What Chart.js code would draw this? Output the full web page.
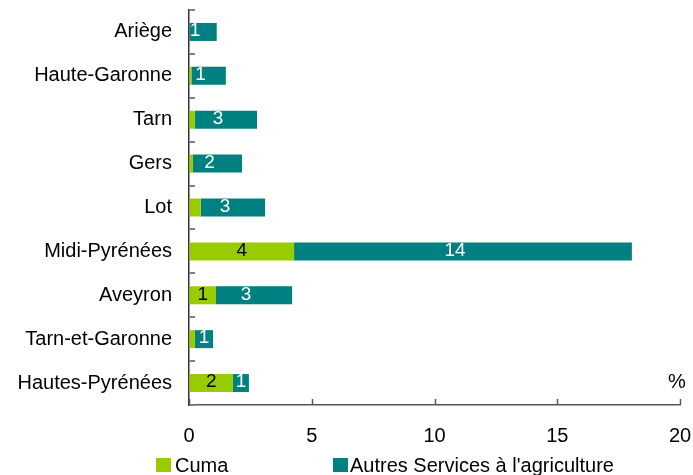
<!DOCTYPE html>
<html lang="fr">
<head>
<meta charset="utf-8">
<title>Cuma et autres services à l'agriculture</title>
<script src="https://cdn.jsdelivr.net/npm/chart.js@4.4.1/dist/chart.umd.min.js"></script>
<style>
  body { margin: 0; background: #fff; }
  #wrap { position: relative; width: 693px; height: 475px; font-family: "Liberation Sans", Arial, sans-serif; }
  #chart { position: absolute; left: 0; top: 0; }
  .lg-box { position: absolute; width: 15px; height: 14px; }
  .lg-txt { position: absolute; font-size: 20px; line-height: 23px; color: #000; white-space: nowrap; }
</style>
</head>
<body>
<div id="wrap">
  <canvas id="chart" width="693" height="475"></canvas>
  <span class="lg-box" style="left:156px; top:458px; background:#99cc00"></span>
  <span class="lg-txt" style="left:175px; top:454px">Cuma</span>
  <span class="lg-box" style="left:333px; top:458px; background:#008080"></span>
  <span class="lg-txt" style="left:350px; top:454px">Autres Services à l'agriculture</span>
</div>
<script>
// ---- données (en %) ----
const departements = [
  'Ariège', 'Haute-Garonne', 'Tarn', 'Gers', 'Lot',
  'Midi-Pyrénées', 'Aveyron', 'Tarn-et-Garonne', 'Hautes-Pyrénées',
];
const cuma = [0, 0.1, 0.24, 0.16, 0.48, 4.28, 1.1, 0.24, 1.79];
const autresServices = [1.13, 1.4, 2.53, 2.0, 2.62, 13.76, 3.1, 0.74, 0.65];
const xTicks = [0, 5, 10, 15, 20];

const GREEN = '#99cc00';
const TEAL = '#008080';
const FONT = '"Liberation Sans", Arial, sans-serif';
const labelColors = ['#000000', '#ffffff'];

// ---- étiquettes de valeurs, petites graduations, unité ----
const overlay = {
  id: 'overlay',
  afterDatasetsDraw(chart) {
    const ctx = chart.ctx;
    ctx.save();
    ctx.font = '19px ' + FONT;
    ctx.textAlign = 'center';
    ctx.textBaseline = 'middle';
    chart.data.datasets.forEach((ds, di) => {
      chart.getDatasetMeta(di).data.forEach((bar, i) => {
        const n = Math.round(ds.data[i]);
        if (n < 1) return;
        const w = bar.x - bar.base;
        const shift = di === 1 && w > 25 ? -8 : 0;
        ctx.fillStyle = labelColors[di];
        ctx.fillText(String(n), (bar.base + bar.x) / 2 + shift, bar.y - 1);
      });
    });
    ctx.restore();
  },
  afterDraw(chart) {
    const ctx = chart.ctx;
    const area = chart.chartArea;
    const xs = chart.scales.x;
    ctx.save();
    // graduations de l'axe vertical (limites de catégories)
    ctx.strokeStyle = '#808080';
    ctx.lineWidth = 2;
    const n = departements.length;
    for (let k = 0; k <= n; k++) {
      const y = Math.round(area.top + k * (area.bottom - area.top) / n);
      ctx.beginPath();
      ctx.moveTo(area.left, y);
      ctx.lineTo(area.left + 6, y);
      ctx.stroke();
    }
    // graduations de l'axe horizontal
    ctx.strokeStyle = '#555';
    ctx.lineWidth = 1.5;
    xTicks.forEach((v) => {
      const x = Math.round(xs.getPixelForValue(v)) + 0.5;
      ctx.beginPath();
      ctx.moveTo(x, area.bottom);
      ctx.lineTo(x, area.bottom - 6);
      ctx.stroke();
    });
    // unité
    ctx.fillStyle = '#000';
    ctx.font = '20px ' + FONT;
    ctx.textAlign = 'center';
    ctx.textBaseline = 'alphabetic';
    ctx.fillText('%', 677, 388);
    ctx.restore();
  },
};

new Chart(document.getElementById('chart'), {
  type: 'bar',
  data: {
    labels: departements,
    datasets: [
      { label: 'Cuma', data: cuma, backgroundColor: GREEN },
      { label: "Autres Services à l'agriculture", data: autresServices, backgroundColor: TEAL },
    ],
  },
  options: {
    indexAxis: 'y',
    responsive: false,
    animation: false,
    devicePixelRatio: 1,
    layout: { padding: { top: 10, right: 13, bottom: 0, left: 0 } },
    datasets: { bar: { barPercentage: 0.41, categoryPercentage: 1 } },
    plugins: {
      legend: { display: false },
      tooltip: { enabled: false },
    },
    scales: {
      x: {
        stacked: true,
        min: 0,
        max: 20,
        afterBuildTicks: (s) => { s.ticks = xTicks.map((v) => ({ value: v })); },
        afterFit: (s) => {
          s.height = 70;
          s.paddingLeft = 0;
          s.paddingRight = 0;
        },
        ticks: { color: '#000', font: { family: FONT, size: 20 }, padding: 19 },
        grid: { drawOnChartArea: false, drawTicks: false },
        border: { color: '#555', width: 1.5 },
      },
      y: {
        stacked: true,
        afterFit: (s) => {
          s.width = 189;
          s.paddingTop = 0;
          s.paddingBottom = 0;
        },
        ticks: { color: '#000', font: { family: FONT, size: 20 }, padding: 17 },
        grid: { drawOnChartArea: false, drawTicks: false },
        border: { color: '#333', width: 1.5 },
      },
    },
  },
  plugins: [overlay],
});
</script>
</body>
</html>
